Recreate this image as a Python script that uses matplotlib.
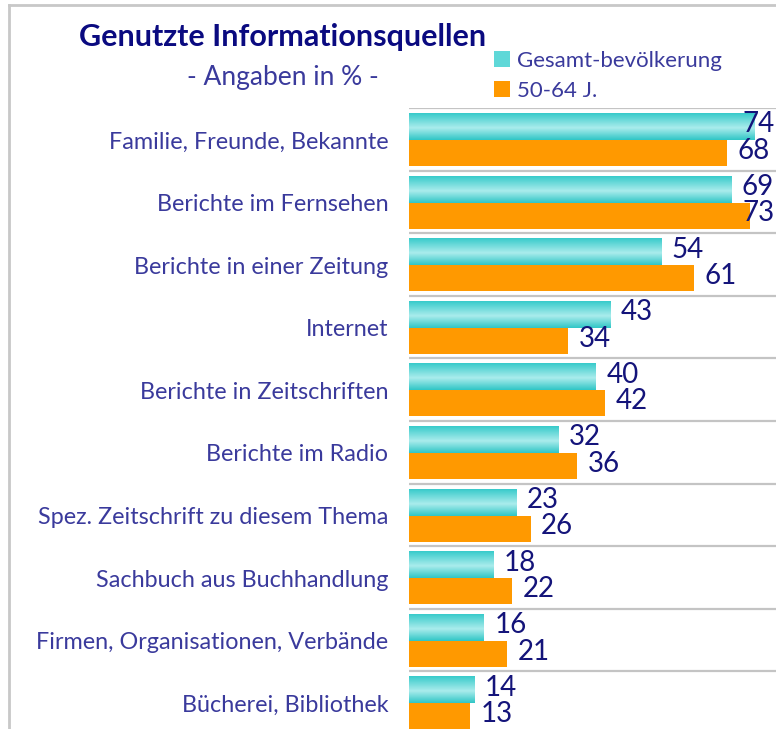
import matplotlib.pyplot as plt
import numpy as np
from matplotlib.colors import LinearSegmentedColormap
from matplotlib.lines import Line2D
from matplotlib.patches import Patch

categories = ['Familie, Freunde, Bekannte', 'Berichte im Fernsehen',
              'Berichte in einer Zeitung', 'Internet', 'Berichte in Zeitschriften',
              'Berichte im Radio', 'Spez. Zeitschrift zu diesem Thema',
              'Sachbuch aus Buchhandlung', 'Firmen, Organisationen, Verbände',
              'Bücherei, Bibliothek']
gesamt = [74, 69, 54, 43, 40, 32, 23, 18, 16, 14]
age_50_64 = [68, 73, 61, 34, 42, 36, 26, 22, 21, 13]
legend_labels = ['Gesamt-bevölkerung', '50-64 J.']

plt.rcParams['font.family'] = ['Lato', 'DejaVu Sans']

navy = '#14147a'
label_col = '#3a3a9c'
teal = '#3dcccc'
orange = '#ff9900'

W, H = 776, 729
fig = plt.figure(figsize=(W / 100, H / 100), dpi=100)
ax = fig.add_axes([409 / W, 1 - 734 / H, 374 / W, 626 / H])

n = len(categories)
y = np.arange(n)
ax.set_xlim(0, 80)
ax.set_ylim(n, 0)

teal_bars = ax.barh(y + 0.295, gesamt, height=0.43, color=teal, lw=0)
orange_bars = ax.barh(y + 0.7175, age_50_64, height=0.415, color=orange, lw=0)

# vertical gradient for the teal bars
cmap = LinearSegmentedColormap.from_list('tealgrad', [(0, '#38cbcb'), (0.55, '#aaecec'), (1, '#30c6c6')])
grad = np.linspace(0, 1, 100).reshape(-1, 1)
for bar in teal_bars:
    x0, y0 = bar.get_x(), bar.get_y()
    im = ax.imshow(grad, cmap=cmap, aspect='auto', origin='upper',
                   extent=(x0, x0 + bar.get_width(), y0 + bar.get_height(), y0), zorder=2)
    im.set_clip_path(bar)
ax.set_xlim(0, 80)
ax.set_ylim(n, 0)

# row separators
for i in range(n):
    ax.axhline(i, color='#c4c4c4', lw=1.6, zorder=3)

# value labels; keep the ones near the right edge inside the picture
fig.canvas.draw()
to_px = ax.transData.transform
for bars, vals in [(teal_bars, gesamt), (orange_bars, age_50_64)]:
    for bar, v in zip(bars, vals):
        yc = bar.get_y() + bar.get_height() / 2
        end_px = to_px((v, yc))[0]
        if end_px + 10 + 32 > W:
            ax.annotate(str(v), xy=(1, yc), xycoords=('figure fraction', 'data'),
                        xytext=(-1, 1.5), textcoords='offset points', ha='right', va='center',
                        fontsize=20, color=navy, zorder=4, annotation_clip=False)
        else:
            ax.annotate(str(v), xy=(v, yc), xytext=(7.5, 1.5),
                        textcoords='offset points', ha='left', va='center',
                        fontsize=20, color=navy, zorder=4, annotation_clip=False)

ax.set_yticks(y + 0.51)
ax.set_yticklabels(categories, fontsize=16.8, color=label_col)
ax.tick_params(axis='y', length=0, pad=15)
ax.set_xticks([])
for s in ax.spines.values():
    s.set_visible(False)

fig.text(283 / W, 1 - 37 / H, 'Genutzte Informationsquellen', ha='center', va='center',
         fontsize=22, fontweight='bold', color='#0a0a80')
fig.text(283 / W, 1 - 77 / H, '- Angaben in % -', ha='center', va='center',
         fontsize=19, color=label_col)

handles = [Patch(facecolor='#5fd8d8', edgecolor='none'), Patch(facecolor=orange, edgecolor='none')]
fig.legend(handles, legend_labels, loc='upper left', bbox_to_anchor=(474 / W, 1 - 31 / H),
           frameon=False, handlelength=0.7, handleheight=0.7, handletextpad=0.35,
           labelspacing=0.45, labelcolor=label_col, prop={'size': 16})

# outer frame
fig.add_artist(Line2D([9 / W, 9 / W], [0, 1 - 5 / H], transform=fig.transFigure, color='#c8c8c8', lw=2))
fig.add_artist(Line2D([9 / W, 1], [1 - 5 / H, 1 - 5 / H], transform=fig.transFigure, color='#c8c8c8', lw=2))

fig.savefig('out.png', dpi=100)
